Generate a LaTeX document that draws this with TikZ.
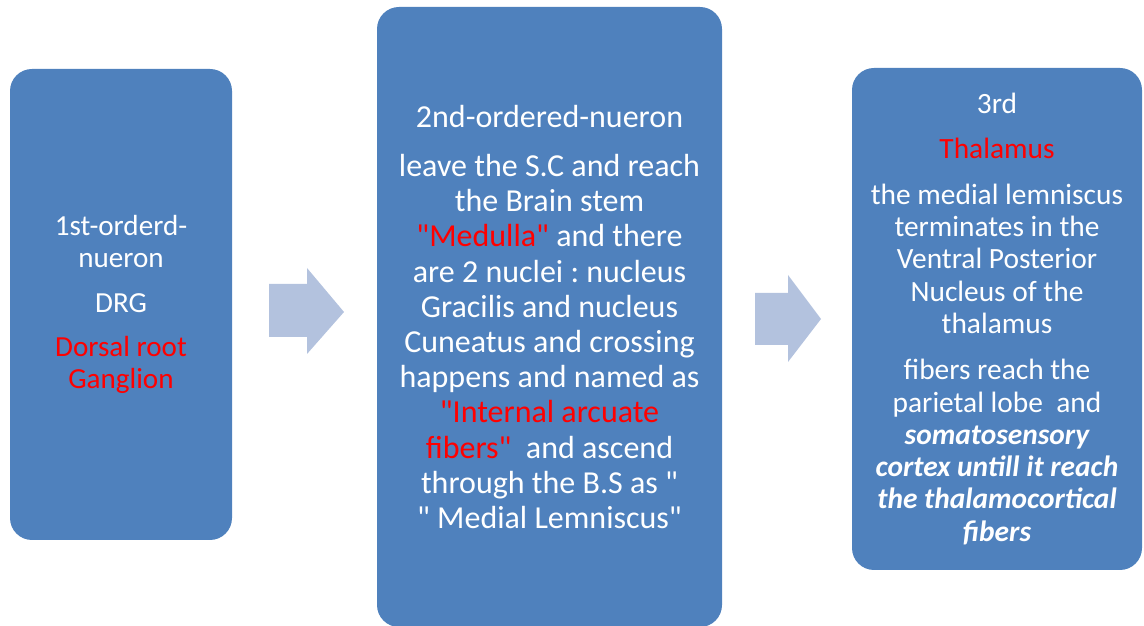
\documentclass[tikz,border=0pt]{standalone}
\usepackage{fontspec}
\setmainfont{Carlito}[Ligatures=TeXOff]
\frenchspacing
\definecolor{boxblue}{HTML}{4F81BD}
\definecolor{arrowblue}{HTML}{B3C2DE}
\definecolor{hired}{HTML}{FF0000}
\newcommand{\redtxt}[1]{\textcolor{hired}{#1}}
\tikzset{
  stage/.style={fill=boxblue, rounded corners=22pt, text=white, align=center, inner sep=0pt},
  stepfill/.style={fill=arrowblue}
}

\begin{document}
\begin{tikzpicture}[x=1pt,y=1pt]
\useasboundingbox (0,0) rectangle (1144,626);
% the three neurons
\node[stage, minimum width=222pt, minimum height=471pt,
  font=\fontsize{29.1}{32}\selectfont] (first) at (121,321.5)
  {1st-orderd-\\ nueron\\[13pt] DRG\\[12pt] \redtxt{Dorsal root}\\ \redtxt{Ganglion}};
\node[stage, minimum width=345pt, minimum height=620pt,
  font=\fontsize{32}{35.2}\selectfont] (second) at (549.5,309)
  {2nd-ordered-nueron\\[14pt]
   leave the S.C and reach\\
   the Brain stem\\
   \redtxt{"Medulla"} and there\\
   are 2 nuclei : nucleus\\
   Gracilis and nucleus\\
   Cuneatus and crossing\\
   happens and named as\\
   \redtxt{"Internal arcuate}\\
   \redtxt{fibers"}\ \ and ascend\\
   through the B.S as "\\
   " Medial Lemniscus"};
\node[stage, minimum width=290pt, minimum height=502pt,
  font=\fontsize{29.4}{32.3}\selectfont] (third) at (997,307)
  {3rd\\[13pt]
   \redtxt{Thalamus}\\[13pt]
   the medial lemniscus\\
   terminates in the\\
   Ventral Posterior\\
   Nucleus of the\\
   thalamus\\[14pt]
   fibers reach the\\
   parietal lobe\ \ and\\
   \bfseries\itshape somatosensory\\
   \bfseries\itshape cortex untill it reach\\
   \bfseries\itshape the thalamocortical\\
   \bfseries\itshape fibers};
% block arrows
\fill[stepfill] (269,289) -- (269,342) -- (307,342) -- (307,358) -- (344,314)
  -- (307,272) -- (307,289) -- cycle;
\fill[stepfill] (755,281) -- (755,333) -- (788,333) -- (788,351) -- (821,307)
  -- (788,264) -- (788,281) -- cycle;
\end{tikzpicture}
\end{document}
